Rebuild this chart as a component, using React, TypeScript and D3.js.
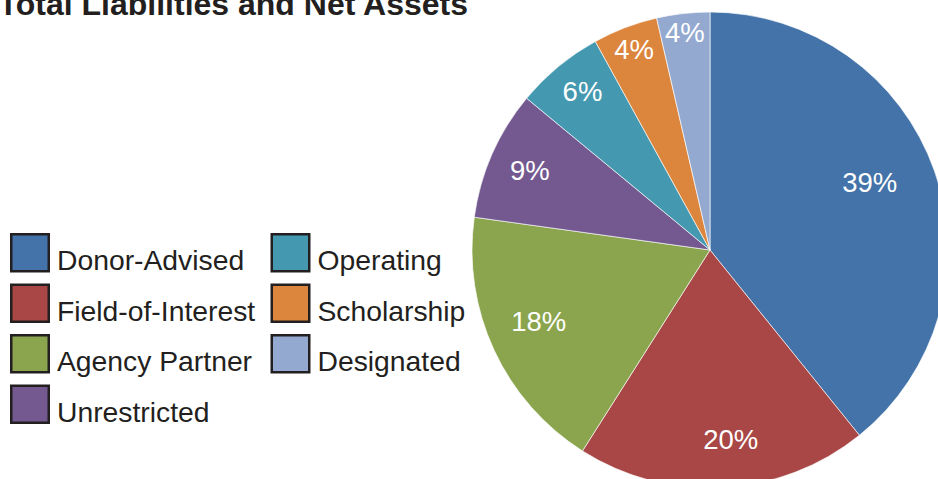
import React from "react";
import * as d3 from "d3";

const categories = [
  "Donor-Advised",
  "Field-of-Interest",
  "Agency Partner",
  "Unrestricted",
  "Operating",
  "Scholarship",
  "Designated",
];
const values = [39.2, 19.8, 18.2, 8.8, 6.0, 4.4, 3.6];
const colors = ["#4373a8", "#a84745", "#8aa54e", "#73598f", "#4499b0", "#dc853c", "#93a9d0"];
const title = "Total Liabilities and Net Assets";

// label layout (fraction of radius, angular tweak in degrees) — layout only
const labelRadiusFrac = [0.729, 0.798, 0.779, 0.828, 0.857, 0.902, 0.921];
const labelAngleTweak = [-3.5, -3, 2.3, 0.2, 0.9, 0.2, -0.1];

const W = 938;
const H = 479;
const cx = 710;
const cy = 250;
const R = 238;

export default function App() {
  const pie = d3
    .pie<number>()
    .sort(null)
    .value((d) => d)
    .startAngle(0)
    .endAngle(2 * Math.PI);
  const arcs = pie(values);
  const arcGen = d3.arc<d3.PieArcDatum<number>>().innerRadius(0).outerRadius(R);
  const total = d3.sum(values);

  const legendItems = categories.map((c, i) => {
    const col = i < 4 ? 0 : 1;
    const row = i < 4 ? i : i - 4;
    return { c, i, x: col === 0 ? 10 : 270.5, y: 233 + row * 50.5 };
  });

  return (
    <svg
      width={W}
      height={H}
      style={{ position: "absolute", left: 0, top: 0, background: "#fff" }}
      fontFamily="'Liberation Sans', Arial, Helvetica, sans-serif"
    >
      <text x={468} y={15} textAnchor="end" fontSize={32} fontWeight="bold" fill="#231f20">
        {title}
      </text>
      <g transform={`translate(${cx},${cy})`}>
        {arcs.map((a, i) => (
          <path key={i} d={arcGen(a) || ""} fill={colors[i]} stroke="#ffffff" strokeWidth={0.8} strokeOpacity={0.8} />
        ))}
        {arcs.map((a, i) => {
          const mid = (a.startAngle + a.endAngle) / 2 + (labelAngleTweak[i] * Math.PI) / 180;
          const r = R * labelRadiusFrac[i];
          const x = r * Math.sin(mid);
          const y = -r * Math.cos(mid);
          return (
            <text
              key={i}
              x={x}
              y={y}
              dy="0.36em"
              textAnchor="middle"
              fontSize={27.5}
              fill="#ffffff"
            >
              {`${Math.round((values[i] / total) * 100)}%`}
            </text>
          );
        })}
      </g>
      {legendItems.map((it) => (
        <g key={it.i}>
          <rect
            x={it.x + 1.25}
            y={it.y + 1.25}
            width={37.5}
            height={37}
            fill={colors[it.i]}
            stroke="#231f20"
            strokeWidth={2.5}
          />
          <text x={it.x + 47} y={it.y + 37} fontSize={28.3} fill="#231f20">
            {it.c}
          </text>
        </g>
      ))}
    </svg>
  );
}
